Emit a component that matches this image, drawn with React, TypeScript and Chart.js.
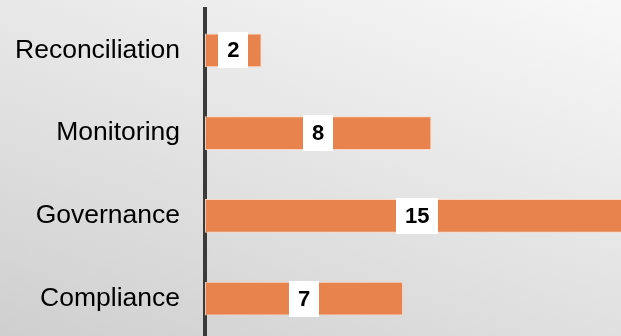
import React, { useEffect, useRef } from "react";
import { Chart, registerables } from "chart.js";

Chart.register(...registerables);

const categories = ["Reconciliation", "Monitoring", "Governance", "Compliance"];
const values = [2, 8, 15, 7];
const xMax = 14.7;

const barColor = "#E8834E";

const valueLabelPlugin = {
  id: "valueLabels",
  afterDatasetsDraw(chart: any) {
    const ctx = chart.ctx;
    const meta = chart.getDatasetMeta(0);
    ctx.save();
    ctx.font = "bold 22px 'Liberation Sans', Arial, sans-serif";
    ctx.textAlign = "center";
    ctx.textBaseline = "middle";
    meta.data.forEach((el: any, i: number) => {
      const v = chart.data.datasets[0].data[i];
      const text = String(v);
      const cx = (el.x + el.base) / 2;
      const cy = el.y;
      const w = ctx.measureText(text).width + 18;
      const h = 36;
      ctx.fillStyle = "#ffffff";
      ctx.fillRect(Math.round(cx - w / 2), Math.round(cy - h / 2), Math.round(w), h);
      ctx.fillStyle = "#000000";
      ctx.fillText(text, cx, cy + 1);
    });
    ctx.restore();
  },
};

export default function App() {
  const ref = useRef<HTMLCanvasElement | null>(null);
  useEffect(() => {
    if (!ref.current) return;
    const chart = new Chart(ref.current, {
      type: "bar",
      data: {
        labels: categories,
        datasets: [
          {
            data: values,
            backgroundColor: barColor,
            borderColor: "rgba(255,215,195,0.9)",
            borderWidth: 1,
            borderSkipped: false,
            barPercentage: 0.41,
            categoryPercentage: 1,
          },
        ],
      },
      options: {
        indexAxis: "y",
        animation: false,
        responsive: false,
        layout: { padding: { top: 9, bottom: 0, left: 0, right: 0 } },
        plugins: { legend: { display: false }, tooltip: { enabled: false } },
        scales: {
          x: { display: false, min: 0, max: xMax },
          y: {
            afterFit: (scale: any) => {
              scale.width = 205;
              scale.paddingTop = 0;
              scale.paddingBottom = 0;
            },
            grid: { display: true, color: "transparent", drawTicks: false },
            border: { display: true, color: "#3a3a3a", width: 4 },
            ticks: {
              padding: 25,
              color: "#000000",
              font: { family: "'Liberation Sans', Arial, sans-serif", size: 26.5 },
            },
          },
        },
      },
      plugins: [valueLabelPlugin],
    });
    return () => chart.destroy();
  }, []);
  return (
    <div
      style={{
        position: "fixed",
        left: 0,
        top: 0,
        width: 621,
        height: 336,
        overflow: "hidden",
        background: "linear-gradient(200deg, #f8f8f8 0%, #e4e4e4 50%, #cfcfcf 100%)",
      }}
    >
      <canvas ref={ref} width={621} height={340} style={{ display: "block" }} />
    </div>
  );
}
